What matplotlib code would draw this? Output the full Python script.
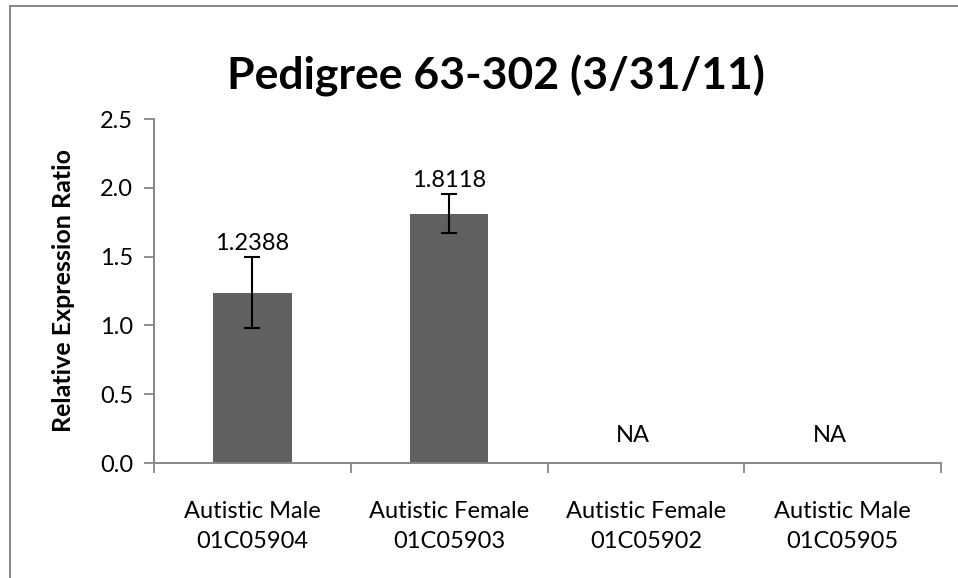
import matplotlib
matplotlib.use("Agg")
import matplotlib.pyplot as plt
from matplotlib.lines import Line2D

# Data
categories = ["Autistic Male\n01C05904", "Autistic Female\n01C05903",
              "Autistic Female\n01C05902", "Autistic Male\n01C05905"]
ratios = [1.2388, 1.8118, None, None]
errors = [0.258, 0.141, None, None]
value_labels = ["1.2388", "1.8118", "NA", "NA"]
y_ticks = [0.0, 0.5, 1.0, 1.5, 2.0, 2.5]

plt.rcParams["font.family"] = ["Lato", "DejaVu Sans"]

W, H = 958, 578
fig = plt.figure(figsize=(W / 100, H / 100), dpi=100)
fig.patch.set_facecolor("white")

# chart-area frame (top and left edges visible)
frame_col = "#868686"
fig.add_artist(Line2D([9.5 / W, 1.0], [1 - 6 / H, 1 - 6 / H], color=frame_col, lw=1.4,
                      transform=fig.transFigure))
fig.add_artist(Line2D([9.5 / W, 9.5 / W], [0.0, 1 - 6 / H], color=frame_col, lw=1.4,
                      transform=fig.transFigure))

left, right = 154 / W, 941 / W
bottom, top = 1 - 463 / H, 1 - 119 / H
ax = fig.add_axes([left, bottom, right - left, top - bottom])

bar_col = "#606060"
xs = list(range(len(categories)))
for i, (v, e) in enumerate(zip(ratios, errors)):
    if v is None:
        continue
    ax.bar(i, v, width=0.4, color=bar_col, zorder=2)
    ax.errorbar(i, v, yerr=e, fmt="none", ecolor="black", elinewidth=1.5,
                capsize=6, capthick=1.5, zorder=3)

fs = 17
for i, (v, e, lab) in enumerate(zip(ratios, errors, value_labels)):
    if v is None:
        ax.annotate(lab, xy=(i - 0.065, 0.0), xytext=(0, 20), textcoords="offset points",
                    ha="center", va="center", fontsize=fs, color="black")
    else:
        ax.annotate(lab, xy=(i, v + e), xytext=(0, 2.5), textcoords="offset points",
                    ha="center", va="bottom", fontsize=fs, color="black")

ax.set_xlim(-0.5, len(categories) - 0.5)
ax.set_ylim(0, 2.5)
ax.set_yticks(y_ticks)
ax.set_yticklabels([f"{t:.1f}" for t in y_ticks], fontsize=fs)

# category boundaries carry the tick marks; labels sit at centres
ax.set_xticks([i - 0.5 for i in range(len(categories) + 1)])
ax.set_xticklabels([])
ax.set_xticks(xs, minor=True)
ax.set_xticklabels(categories, minor=True, fontsize=fs, linespacing=1.58)
ax.tick_params(axis="x", which="minor", length=0, pad=27)
ax.tick_params(axis="x", which="major", length=7, width=1.3, color=frame_col, direction="out")
ax.tick_params(axis="y", length=7, width=1.3, color=frame_col, direction="out", pad=8)

for side in ["top", "right"]:
    ax.spines[side].set_visible(False)
for side in ["left", "bottom"]:
    ax.spines[side].set_color(frame_col)
    ax.spines[side].set_linewidth(1.4)

ax.set_ylabel("Relative Expression Ratio", fontsize=18, fontweight="bold", labelpad=18)
fig.text(496 / W, 1 - 76 / H, "Pedigree 63-302 (3/31/11)",
         ha="center", va="center", fontsize=32, fontweight="bold")

fig.savefig("out.png", dpi=100, facecolor="white")
